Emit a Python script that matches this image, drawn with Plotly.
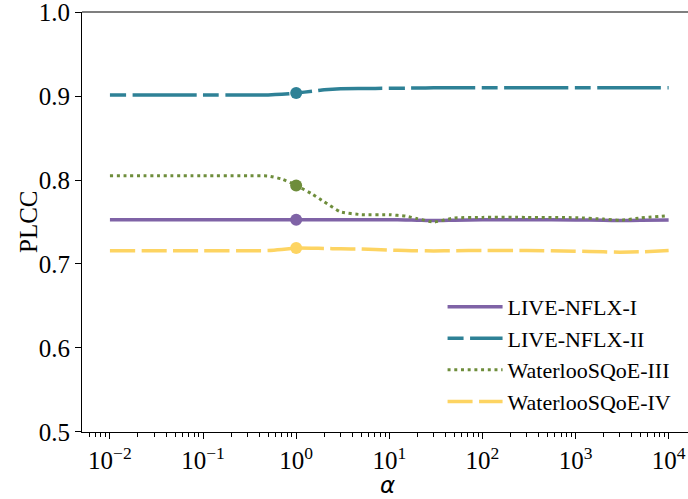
import plotly.graph_objects as go

alpha = [0.01, 0.1, 0.3, 0.5, 0.7, 1, 1.5, 2, 3, 5, 10, 15, 20, 30, 50, 100, 300, 1000, 2000, 3000, 5000, 10000]

live_nflx_1 = [0.7527, 0.7527, 0.7527, 0.7527, 0.7527, 0.7527, 0.7527, 0.7527, 0.7527, 0.7527, 0.7527,
               0.7525, 0.7522, 0.7517, 0.7522, 0.7527, 0.7527, 0.7525, 0.7520, 0.7518, 0.7520, 0.7525]
live_nflx_2 = [0.9012, 0.9012, 0.9012, 0.9013, 0.9020, 0.9036, 0.9058, 0.9075, 0.9088, 0.9090, 0.9092,
               0.9094, 0.9095, 0.9098, 0.9099, 0.9100, 0.9100, 0.9100, 0.9100, 0.9100, 0.9100, 0.9100]
waterloo_3 = [0.8050, 0.8050, 0.8050, 0.8048, 0.8012, 0.7936, 0.7830, 0.7740, 0.7620, 0.7588, 0.7587,
              0.7570, 0.7540, 0.7500, 0.7548, 0.7555, 0.7555, 0.7551, 0.7535, 0.7520, 0.7548, 0.7575]
waterloo_4 = [0.7158, 0.7158, 0.7158, 0.7160, 0.7172, 0.7190, 0.7188, 0.7185, 0.7180, 0.7178, 0.7165,
              0.7160, 0.7158, 0.7155, 0.7158, 0.7160, 0.7160, 0.7153, 0.7145, 0.7140, 0.7145, 0.7160]

names = ["LIVE-NFLX-I", "LIVE-NFLX-II", "WaterlooSQoE-III", "WaterlooSQoE-IV"]
series = [live_nflx_1, live_nflx_2, waterloo_3, waterloo_4]
colors = ["#7f63a6", "#2e8196", "#6e8d3b", "#fdd462"]
dashes = ["solid", "16px,6.5px,64px,6.5px", "3px,3.7px", "25px,6.5px"]
widths = [3.5, 3.5, 3.0, 3.5]

marker_alpha = 1

x_tickvals = [0.01, 0.1, 1, 10, 100, 1000, 10000]
x_ticktext = ["10<sup>−2</sup>", "10<sup>−1</sup>", "10<sup>0</sup>", "10<sup>1</sup>",
              "10<sup>2</sup>", "10<sup>3</sup>", "10<sup>4</sup>"]
y_tickvals = [0.5, 0.6, 0.7, 0.8, 0.9, 1.0]
y_ticktext = ["0.5", "0.6", "0.7", "0.8", "0.9", "1.0"]

fig = go.Figure()
for name, ys, c, d, w in zip(names, series, colors, dashes, widths):
    fig.add_trace(go.Scatter(x=alpha, y=ys, mode="lines", name=name,
                             line=dict(color=c, dash=d, width=w, shape="spline", smoothing=0.45)))
for name, ys, c in zip(names, series, colors):
    idx = alpha.index(marker_alpha)
    fig.add_trace(go.Scatter(x=[alpha[idx]], y=[ys[idx]], mode="markers", showlegend=False,
                             marker=dict(color=c, size=12), name=name))

serif = "Liberation Serif, Times New Roman, serif"

fig.update_layout(
    width=688, height=499,
    margin=dict(l=82, r=0, t=12, b=67, autoexpand=False),
    paper_bgcolor="white", plot_bgcolor="white",
    font=dict(family=serif, size=25, color="black"),
    showlegend=True,
    legend=dict(x=0.595, y=0.348, xanchor="left", yanchor="top",
                bgcolor="rgba(0,0,0,0)", font=dict(family=serif, size=22),
                itemwidth=55, tracegroupgap=0),
    xaxis=dict(type="log", range=[-2.3, 4.208], showgrid=False, zeroline=False, automargin=False,
               showline=True, linecolor="black", linewidth=1.2,
               ticks="outside", ticklen=6, tickwidth=1.2, tickcolor="black",
               tickvals=x_tickvals, ticktext=x_ticktext, ticklabeloverflow="allow",
               tickfont=dict(family=serif, size=25),
               minor=dict(ticks="outside", ticklen=3.5, tickwidth=1, tickcolor="black", dtick="D1")),
    yaxis=dict(range=[0.4999, 1.0001], showgrid=False, zeroline=False, automargin=False,
               showline=True, linecolor="black", linewidth=1.2,
               ticks="outside", ticklen=6, tickwidth=1.2, tickcolor="black",
               tickvals=y_tickvals, ticktext=y_ticktext, ticklabeloverflow="allow",
               tickfont=dict(family=serif, size=25)),
    shapes=[dict(type="line", xref="paper", yref="paper", x0=0, x1=1, y0=1, y1=1,
                 line=dict(color="black", width=1.2))],
    annotations=[
        dict(text="<i>α</i>", xref="paper", yref="paper", x=(387 - 82) / 606, y=-(485 - 432) / 420,
             xanchor="center", yanchor="middle", showarrow=False,
             font=dict(family="DejaVu Sans", size=23)),
        dict(text="PLCC", xref="paper", yref="paper", x=-(82 - 28) / 606, y=(432 - 222) / 420,
             xanchor="center", yanchor="middle", showarrow=False, textangle=-90,
             font=dict(family=serif, size=25)),
    ],
)

fig.write_html("out.html", config={"displayModeBar": False},
               post_script="document.body.style.margin='0';")
